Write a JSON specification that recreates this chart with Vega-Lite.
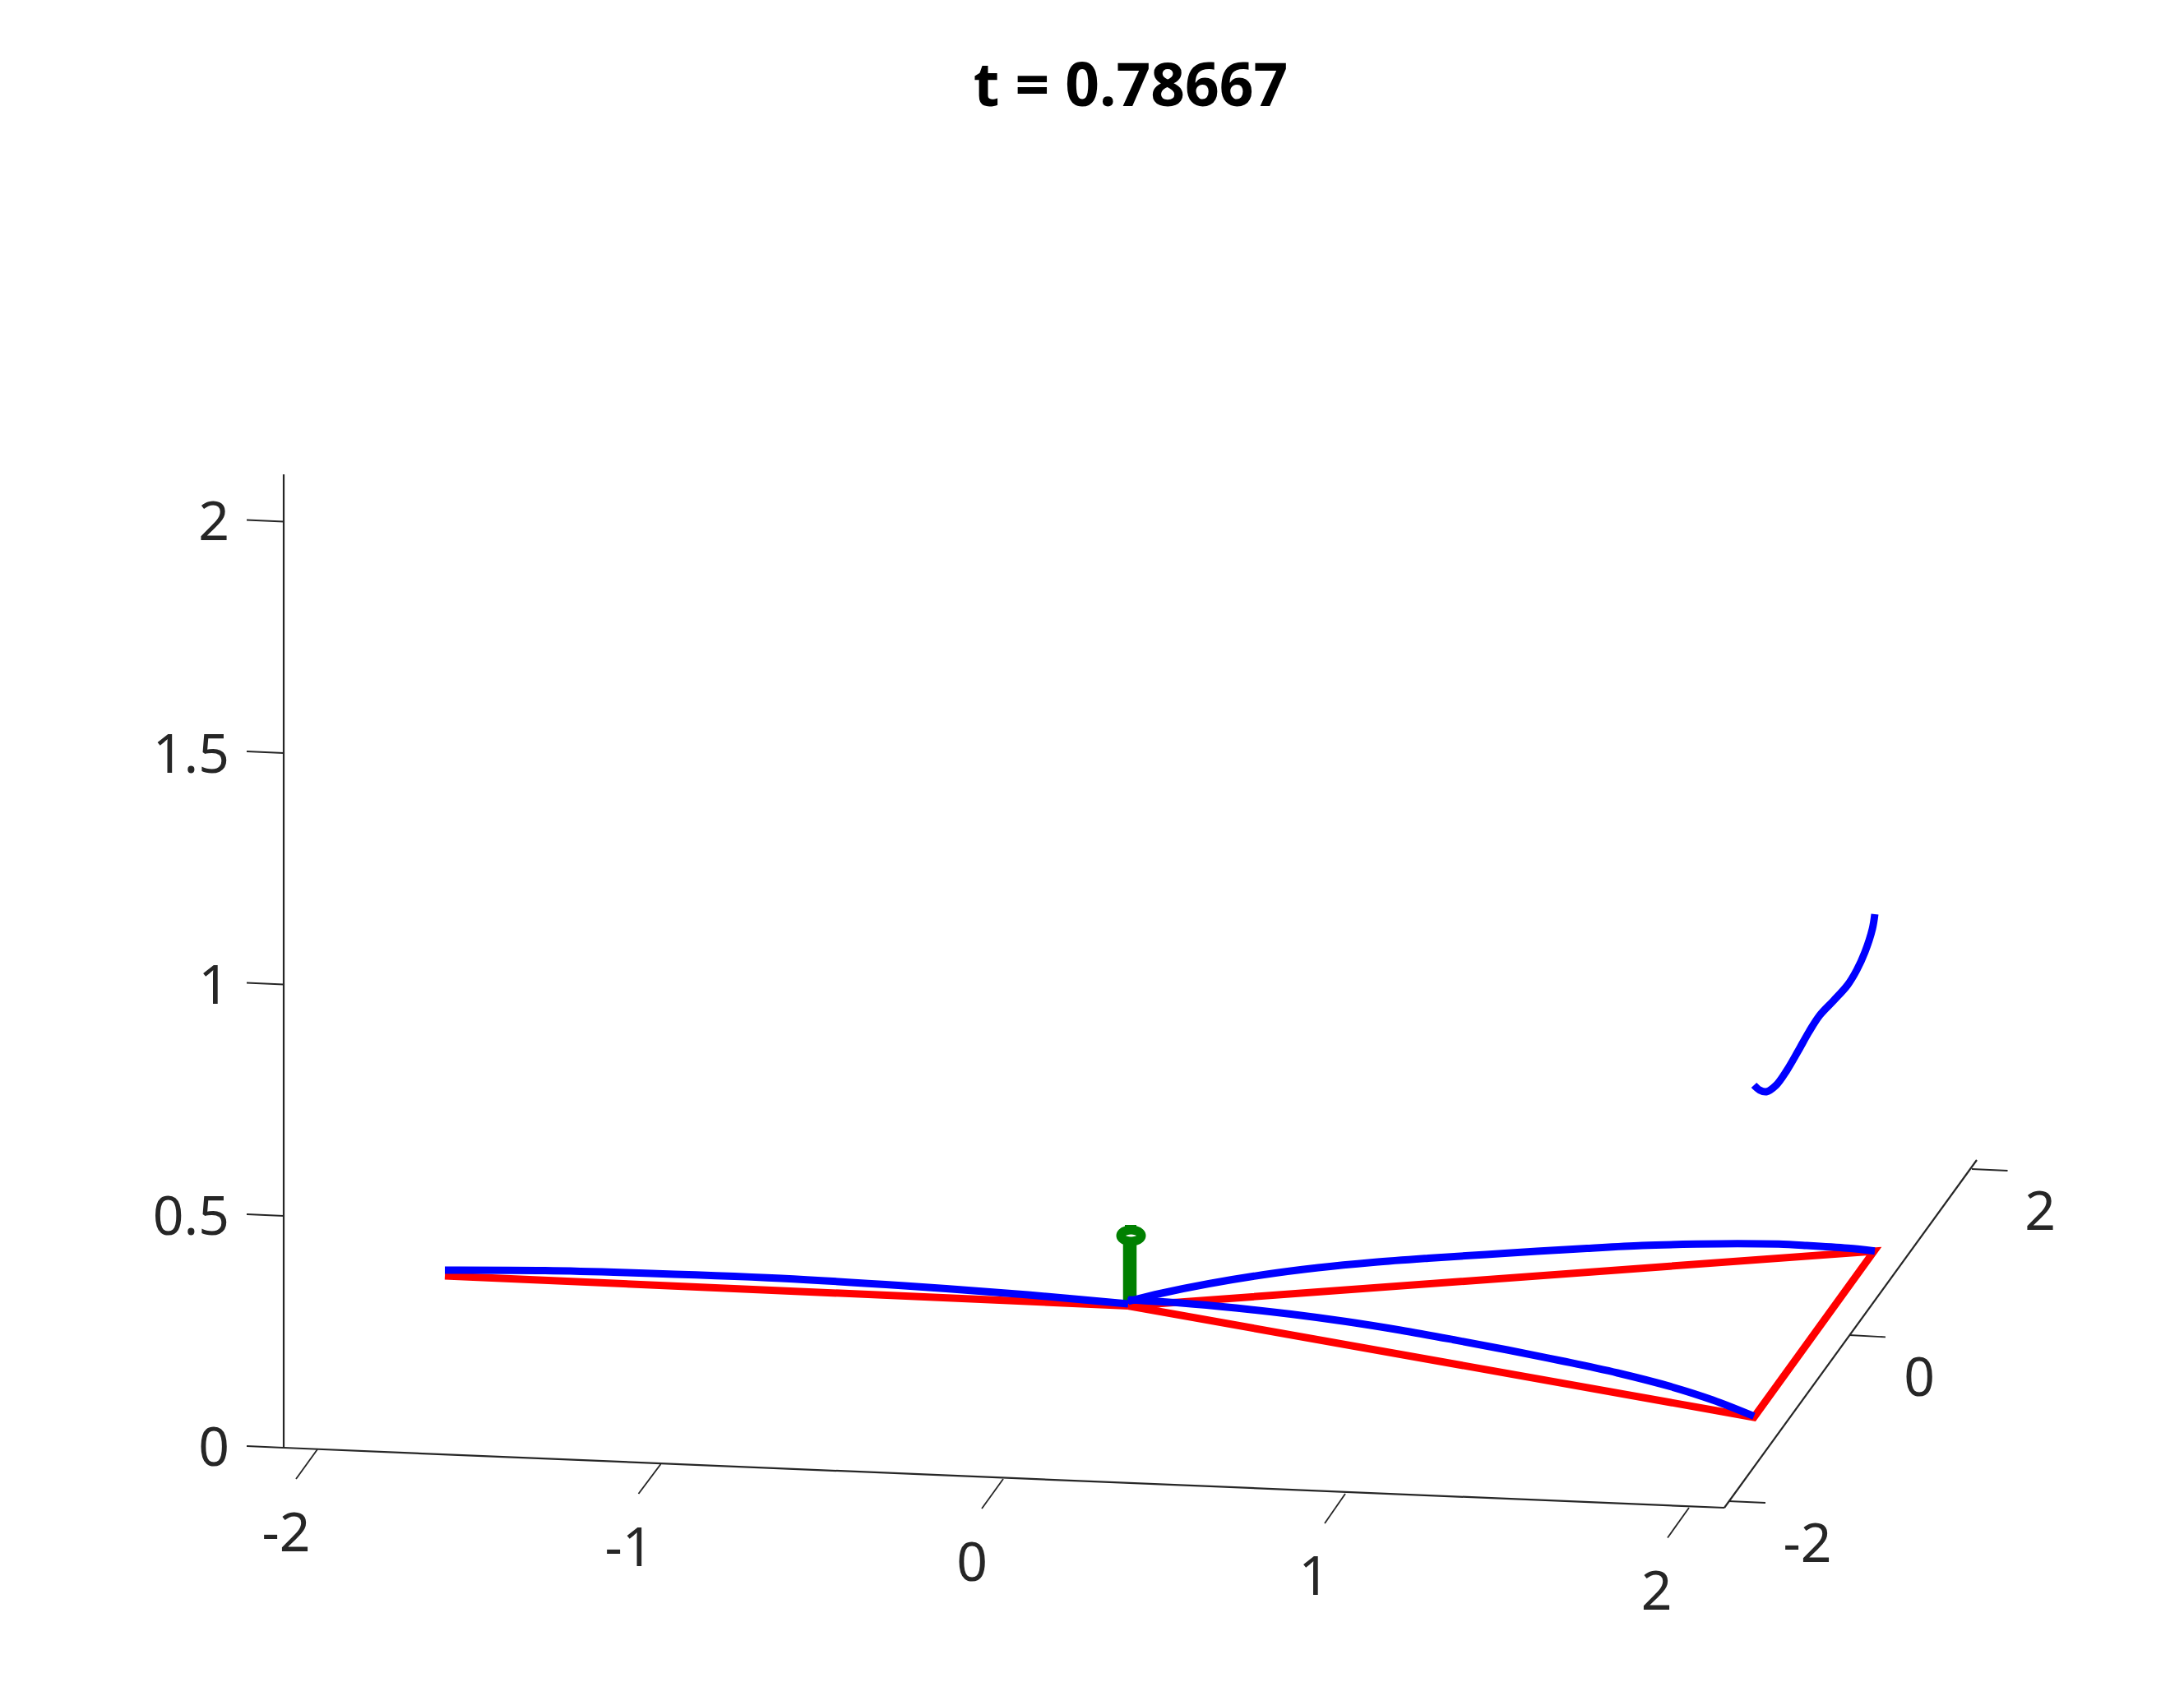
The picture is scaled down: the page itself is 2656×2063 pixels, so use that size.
{"$schema":"https://vega.github.io/schema/vega-lite/v6.json","width":2656,"height":2063,"padding":0,"autosize":{"type":"fit","contains":"padding"},"background":"white","view":{"stroke":null},"config":{"font":"Noto Sans"},"datasets":{"frame":[{"part":"zAxis","kind":"axis","i":0,"h":345,"v":1761},{"part":"zAxis","kind":"axis","i":1,"h":345,"v":577},{"part":"xAxis","kind":"axis","i":0,"h":345,"v":1761},{"part":"xAxis","kind":"axis","i":1,"h":2097,"v":1834},{"part":"yAxis","kind":"axis","i":0,"h":2097,"v":1834},{"part":"yAxis","kind":"axis","i":1,"h":2404,"v":1411},{"part":"z0","kind":"tick","i":0,"h":345,"v":1761},{"part":"z0","kind":"tick","i":1,"h":300,"v":1759},{"part":"z05","kind":"tick","i":0,"h":345,"v":1479},{"part":"z05","kind":"tick","i":1,"h":300,"v":1477},{"part":"z1","kind":"tick","i":0,"h":345,"v":1197.5},{"part":"z1","kind":"tick","i":1,"h":300,"v":1195.5},{"part":"z15","kind":"tick","i":0,"h":345,"v":916},{"part":"z15","kind":"tick","i":1,"h":300,"v":914},{"part":"z2","kind":"tick","i":0,"h":345,"v":634.5},{"part":"z2","kind":"tick","i":1,"h":300,"v":632.5},{"part":"x-2","kind":"tick","i":0,"h":386,"v":1763},{"part":"x-2","kind":"tick","i":1,"h":360,"v":1799},{"part":"x-1","kind":"tick","i":0,"h":803.5,"v":1781},{"part":"x-1","kind":"tick","i":1,"h":776.5,"v":1817},{"part":"x0","kind":"tick","i":0,"h":1220,"v":1799},{"part":"x0","kind":"tick","i":1,"h":1194,"v":1835},{"part":"x1","kind":"tick","i":0,"h":1636,"v":1817},{"part":"x1","kind":"tick","i":1,"h":1611,"v":1853},{"part":"x2","kind":"tick","i":0,"h":2054,"v":1834},{"part":"x2","kind":"tick","i":1,"h":2028,"v":1870.5},{"part":"y-2","kind":"tick","i":0,"h":2102,"v":1826},{"part":"y-2","kind":"tick","i":1,"h":2147,"v":1828},{"part":"y0","kind":"tick","i":0,"h":2249,"v":1624},{"part":"y0","kind":"tick","i":1,"h":2293,"v":1626.4},{"part":"y2","kind":"tick","i":0,"h":2398,"v":1422},{"part":"y2","kind":"tick","i":1,"h":2441.5,"v":1424}],"labels":[{"label":"2","h":279,"v":637,"side":"z"},{"label":"1.5","h":279,"v":920,"side":"z"},{"label":"1","h":279,"v":1201,"side":"z"},{"label":"0.5","h":279,"v":1482,"side":"z"},{"label":"0","h":279,"v":1763,"side":"z"},{"label":"-2","h":348,"v":1867,"side":"p"},{"label":"-1","h":765,"v":1885,"side":"p"},{"label":"0","h":1182,"v":1903,"side":"p"},{"label":"1","h":1598,"v":1920,"side":"p"},{"label":"2","h":2014.5,"v":1938,"side":"p"},{"label":"-2","h":2198,"v":1880,"side":"p"},{"label":"0","h":2334,"v":1678,"side":"p"},{"label":"2","h":2481,"v":1476,"side":"p"}],"curves":[{"part":"redLeft","series":"rest","i":0,"h":541,"v":1552},{"part":"redLeft","series":"rest","i":1,"h":1372,"v":1588.5},{"part":"redTriangle","series":"rest","i":0,"h":1372,"v":1588.5},{"part":"redTriangle","series":"rest","i":1,"h":2279,"v":1522},{"part":"redTriangle","series":"rest","i":2,"h":2133,"v":1724},{"part":"redTriangle","series":"rest","i":3,"h":1372,"v":1588.5},{"part":"blueLeft","series":"moving","i":0,"h":541,"v":1545},{"part":"blueLeft","series":"moving","i":1,"h":663,"v":1545.5},{"part":"blueLeft","series":"moving","i":2,"h":762,"v":1548},{"part":"blueLeft","series":"moving","i":3,"h":950,"v":1555},{"part":"blueLeft","series":"moving","i":4,"h":1100,"v":1564},{"part":"blueLeft","series":"moving","i":5,"h":1250,"v":1575},{"part":"blueLeft","series":"moving","i":6,"h":1372,"v":1586},{"part":"blueUpper","series":"moving","i":0,"h":1372,"v":1583},{"part":"blueUpper","series":"moving","i":1,"h":1413,"v":1573},{"part":"blueUpper","series":"moving","i":2,"h":1470,"v":1561.5},{"part":"blueUpper","series":"moving","i":3,"h":1537,"v":1550.5},{"part":"blueUpper","series":"moving","i":4,"h":1603,"v":1542},{"part":"blueUpper","series":"moving","i":5,"h":1670,"v":1535.5},{"part":"blueUpper","series":"moving","i":6,"h":1737,"v":1530.5},{"part":"blueUpper","series":"moving","i":7,"h":1830,"v":1524.5},{"part":"blueUpper","series":"moving","i":8,"h":1930,"v":1518.5},{"part":"blueUpper","series":"moving","i":9,"h":1997,"v":1515},{"part":"blueUpper","series":"moving","i":10,"h":2063,"v":1513.3},{"part":"blueUpper","series":"moving","i":11,"h":2113,"v":1512.7},{"part":"blueUpper","series":"moving","i":12,"h":2163,"v":1513.3},{"part":"blueUpper","series":"moving","i":13,"h":2197,"v":1515},{"part":"blueUpper","series":"moving","i":14,"h":2247,"v":1518.3},{"part":"blueUpper","series":"moving","i":15,"h":2280,"v":1521.7},{"part":"blueLower","series":"moving","i":0,"h":1372,"v":1581},{"part":"blueLower","series":"moving","i":1,"h":1437,"v":1585},{"part":"blueLower","series":"moving","i":2,"h":1503,"v":1591},{"part":"blueLower","series":"moving","i":3,"h":1570,"v":1598.5},{"part":"blueLower","series":"moving","i":4,"h":1637,"v":1607.5},{"part":"blueLower","series":"moving","i":5,"h":1703,"v":1618},{"part":"blueLower","series":"moving","i":6,"h":1767,"v":1629.5},{"part":"blueLower","series":"moving","i":7,"h":1833,"v":1642},{"part":"blueLower","series":"moving","i":8,"h":1900,"v":1655.5},{"part":"blueLower","series":"moving","i":9,"h":1967,"v":1670},{"part":"blueLower","series":"moving","i":10,"h":2033,"v":1687},{"part":"blueLower","series":"moving","i":11,"h":2083,"v":1703},{"part":"blueLower","series":"moving","i":12,"h":2133,"v":1722.7},{"part":"blueFloating","series":"moving","i":0,"h":2280,"v":1112},{"part":"blueFloating","series":"moving","i":1,"h":2277,"v":1130},{"part":"blueFloating","series":"moving","i":2,"h":2268,"v":1158},{"part":"blueFloating","series":"moving","i":3,"h":2258,"v":1180},{"part":"blueFloating","series":"moving","i":4,"h":2247,"v":1198},{"part":"blueFloating","series":"moving","i":5,"h":2230,"v":1217},{"part":"blueFloating","series":"moving","i":6,"h":2213,"v":1235},{"part":"blueFloating","series":"moving","i":7,"h":2200,"v":1255},{"part":"blueFloating","series":"moving","i":8,"h":2187,"v":1278},{"part":"blueFloating","series":"moving","i":9,"h":2173,"v":1302},{"part":"blueFloating","series":"moving","i":10,"h":2160,"v":1320},{"part":"blueFloating","series":"moving","i":11,"h":2148,"v":1328},{"part":"blueFloating","series":"moving","i":12,"h":2140,"v":1326},{"part":"blueFloating","series":"moving","i":13,"h":2133,"v":1320}],"marker":[{"part":"stem","i":0,"h":1374,"v":1586},{"part":"stem","i":1,"h":1374,"v":1510},{"part":"nub","i":0,"h":1375,"v":1490},{"part":"nub","i":1,"h":1375,"v":1498},{"part":"ring","i":0,"h":1388,"v":1503},{"part":"ring","i":1,"h":1386.3,"v":1506.5},{"part":"ring","i":2,"h":1381.8,"v":1509},{"part":"ring","i":3,"h":1375.5,"v":1510},{"part":"ring","i":4,"h":1369.2,"v":1509},{"part":"ring","i":5,"h":1364.7,"v":1506.5},{"part":"ring","i":6,"h":1363,"v":1503},{"part":"ring","i":7,"h":1364.7,"v":1499.5},{"part":"ring","i":8,"h":1369.2,"v":1497},{"part":"ring","i":9,"h":1375.5,"v":1496},{"part":"ring","i":10,"h":1381.8,"v":1497},{"part":"ring","i":11,"h":1386.3,"v":1499.5}],"title":[{"label":"t = 0.78667","h":1375,"v":129}]},"encoding":{"x":{"field":"h","type":"quantitative","scale":{"domain":[0,2656],"nice":false,"zero":false},"axis":null},"y":{"field":"v","type":"quantitative","scale":{"domain":[2063,0],"nice":false,"zero":false},"axis":null}},"layer":[{"data":{"name":"frame"},"transform":[{"filter":"datum.kind === 'axis'"}],"mark":{"type":"line","color":"#262626","strokeWidth":2.2},"encoding":{"detail":{"field":"part"},"order":{"field":"i"}}},{"data":{"name":"frame"},"transform":[{"filter":"datum.kind === 'tick'"}],"mark":{"type":"line","color":"#262626","strokeWidth":1.8},"encoding":{"detail":{"field":"part"},"order":{"field":"i"}}},{"data":{"name":"curves"},"transform":[{"filter":"datum.series === 'rest'"}],"mark":{"type":"line","color":"#ff0000","strokeWidth":9,"strokeJoin":"miter","strokeCap":"butt"},"encoding":{"detail":{"field":"part"},"order":{"field":"i"}}},{"data":{"name":"marker"},"transform":[{"filter":"datum.part === 'stem'"}],"mark":{"type":"line","color":"#008000","strokeWidth":16.5},"encoding":{"order":{"field":"i"}}},{"data":{"name":"marker"},"transform":[{"filter":"datum.part === 'nub'"}],"mark":{"type":"line","color":"#008000","strokeWidth":14},"encoding":{"order":{"field":"i"}}},{"data":{"name":"marker"},"transform":[{"filter":"datum.part === 'ring'"}],"mark":{"type":"line","color":"#008000","strokeWidth":11,"interpolate":"cardinal-closed"},"encoding":{"order":{"field":"i"}}},{"data":{"name":"curves"},"transform":[{"filter":"datum.series === 'moving'"}],"mark":{"type":"line","color":"#0000ff","strokeWidth":9,"interpolate":"catmull-rom","strokeCap":"butt"},"encoding":{"detail":{"field":"part"},"order":{"field":"i"}}},{"data":{"name":"labels"},"transform":[{"filter":"datum.side === 'z'"}],"mark":{"type":"text","align":"right","baseline":"middle","font":"Noto Sans","fontSize":66,"color":"#262626"},"encoding":{"text":{"field":"label"}}},{"data":{"name":"labels"},"transform":[{"filter":"datum.side === 'p'"}],"mark":{"type":"text","align":"center","baseline":"middle","font":"Noto Sans","fontSize":66,"color":"#262626"},"encoding":{"text":{"field":"label"}}},{"data":{"name":"title"},"mark":{"type":"text","align":"center","baseline":"alphabetic","font":"Noto Sans","fontWeight":"bold","fontSize":73,"color":"#000000"},"encoding":{"text":{"field":"label"}}}]}
